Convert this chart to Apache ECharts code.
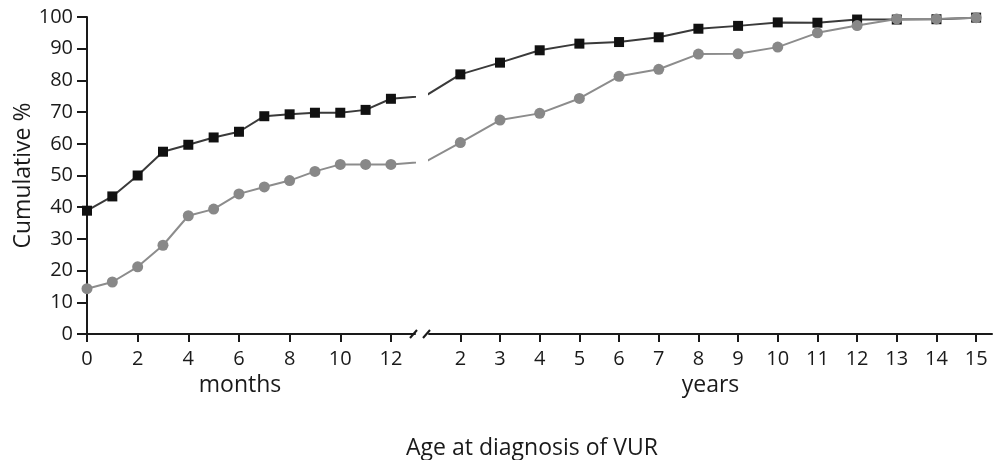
<!DOCTYPE html>
<html>
<head>
<meta charset="utf-8">
<script src="https://cdn.jsdelivr.net/npm/echarts@6/dist/echarts.min.js"></script>
<style>
  html, body { margin: 0; padding: 0; background: #fff; }
  #chart { width: 995px; height: 460px; }
</style>
</head>
<body>
<div id="chart"></div>
<script>
  // x positions
  var months = [0, 1, 2, 3, 4, 5, 6, 7, 8, 9, 10, 11, 12];
  var years = [2, 3, 4, 5, 6, 7, 8, 9, 10, 11, 12, 13, 14, 15];
  var monthTicks = [0, 2, 4, 6, 8, 10, 12];
  var yearTicks = [2, 3, 4, 5, 6, 7, 8, 9, 10, 11, 12, 13, 14, 15];

  // cumulative % (squares = black, circles = grey)
  var squaresMonths = [38.9, 43.4, 50.0, 57.5, 59.7, 62.0, 63.8, 68.7, 69.3, 69.8, 69.8, 70.7, 74.2];
  var squaresYears = [81.9, 85.6, 89.5, 91.6, 92.1, 93.6, 96.3, 97.2, 98.3, 98.2, 99.2, 99.2, 99.3, 99.8];
  var circlesMonths = [14.3, 16.4, 21.2, 28.0, 37.3, 39.4, 44.2, 46.4, 48.4, 51.3, 53.5, 53.5, 53.5];
  var circlesYears = [60.4, 67.5, 69.6, 74.3, 81.3, 83.5, 88.3, 88.4, 90.5, 95.0, 97.3, 99.4, 99.4, 99.8];

  var font = 'Open Sans';
  var ink = '#1a1a1a';

  // months part, plus the 2 year value (month 24) so the line runs into the break
  function monthData(vals, yearVals) {
    var d = months.map(function (m, i) { return [m, vals[i]]; });
    d.push([24, yearVals[0]]);
    return d;
  }
  // years part, starting from the 12 month value (year 1)
  function yearData(vals, monthVals) {
    var d = [[1, monthVals[monthVals.length - 1]]];
    years.forEach(function (y, i) { d.push([y, vals[i]]); });
    return d;
  }

  var chart = echarts.init(document.getElementById('chart'));

  var xCommon = {
    type: 'value',
    axisLine: { lineStyle: { color: ink, width: 2 } },
    axisTick: { length: 8, lineStyle: { color: ink, width: 2 } },
    axisLabel: { color: ink, fontFamily: font, fontSize: 20, margin: 15 },
    splitLine: { show: false },
    nameLocation: 'middle',
    nameTextStyle: { color: ink, fontFamily: font, fontSize: 23 }
  };

  chart.setOption({
    animation: false,
    grid: [
      { left: 87, top: 17, width: 328, height: 317 },
      { left: 429, top: 17, width: 563, height: 317 }
    ],
    xAxis: [
      Object.assign({}, xCommon, {
        gridIndex: 0, min: 0, max: 12.95,
        axisTick: Object.assign({}, xCommon.axisTick, { customValues: monthTicks }),
        axisLabel: Object.assign({}, xCommon.axisLabel, { customValues: monthTicks }),
        name: 'months', nameGap: 40,
        nameTextStyle: Object.assign({}, xCommon.nameTextStyle, { padding: [0, 22, 0, 0] })
      }),
      Object.assign({}, xCommon, {
        gridIndex: 1, min: 1.21, max: 15.4,
        axisTick: Object.assign({}, xCommon.axisTick, { customValues: yearTicks }),
        axisLabel: Object.assign({}, xCommon.axisLabel, { customValues: yearTicks }),
        name: 'years', nameGap: 40
      })
    ],
    yAxis: [
      {
        type: 'value', gridIndex: 0, min: 0, max: 100, interval: 10,
        axisLine: { show: true, lineStyle: { color: ink, width: 2 } },
        axisTick: { show: true, length: 10, lineStyle: { color: ink, width: 2 } },
        axisLabel: { color: ink, fontFamily: font, fontSize: 20, margin: 14 },
        splitLine: { show: false },
        name: 'Cumulative %', nameLocation: 'middle', nameGap: 52,
        nameTextStyle: { color: ink, fontFamily: font, fontSize: 23 }
      },
      {
        type: 'value', gridIndex: 1, min: 0, max: 100, interval: 10,
        axisLine: { show: false }, axisTick: { show: false },
        axisLabel: { show: false }, splitLine: { show: false }
      }
    ],
    series: [
      {
        type: 'line', xAxisIndex: 0, yAxisIndex: 0, clip: true,
        data: monthData(squaresMonths, squaresYears),
        symbol: 'rect', symbolSize: 10,
        itemStyle: { color: '#111' },
        lineStyle: { color: '#3a3a3a', width: 2 }
      },
      {
        type: 'line', xAxisIndex: 1, yAxisIndex: 1, clip: true,
        data: yearData(squaresYears, squaresMonths),
        symbol: 'rect', symbolSize: 10,
        itemStyle: { color: '#111' },
        lineStyle: { color: '#3a3a3a', width: 2 }
      },
      {
        type: 'line', xAxisIndex: 0, yAxisIndex: 0, clip: true,
        data: monthData(circlesMonths, circlesYears),
        symbol: 'circle', symbolSize: 11,
        itemStyle: { color: '#888' },
        lineStyle: { color: '#8c8c8c', width: 2 }
      },
      {
        type: 'line', xAxisIndex: 1, yAxisIndex: 1, clip: true,
        data: yearData(circlesYears, circlesMonths),
        symbol: 'circle', symbolSize: 11,
        itemStyle: { color: '#888' },
        lineStyle: { color: '#8c8c8c', width: 2 }
      }
    ],
    graphic: [
      // axis break marks
      { type: 'line', shape: { x1: 410, y1: 338, x2: 417, y2: 330 }, style: { stroke: ink, lineWidth: 2 } },
      { type: 'line', shape: { x1: 423, y1: 338, x2: 430, y2: 330 }, style: { stroke: ink, lineWidth: 2 } },
      {
        type: 'text', x: 532, y: 448,
        style: { text: 'Age at diagnosis of VUR', fill: ink, font: '23px "Open Sans"', align: 'center', verticalAlign: 'middle' }
      }
    ]
  });
</script>
</body>
</html>
